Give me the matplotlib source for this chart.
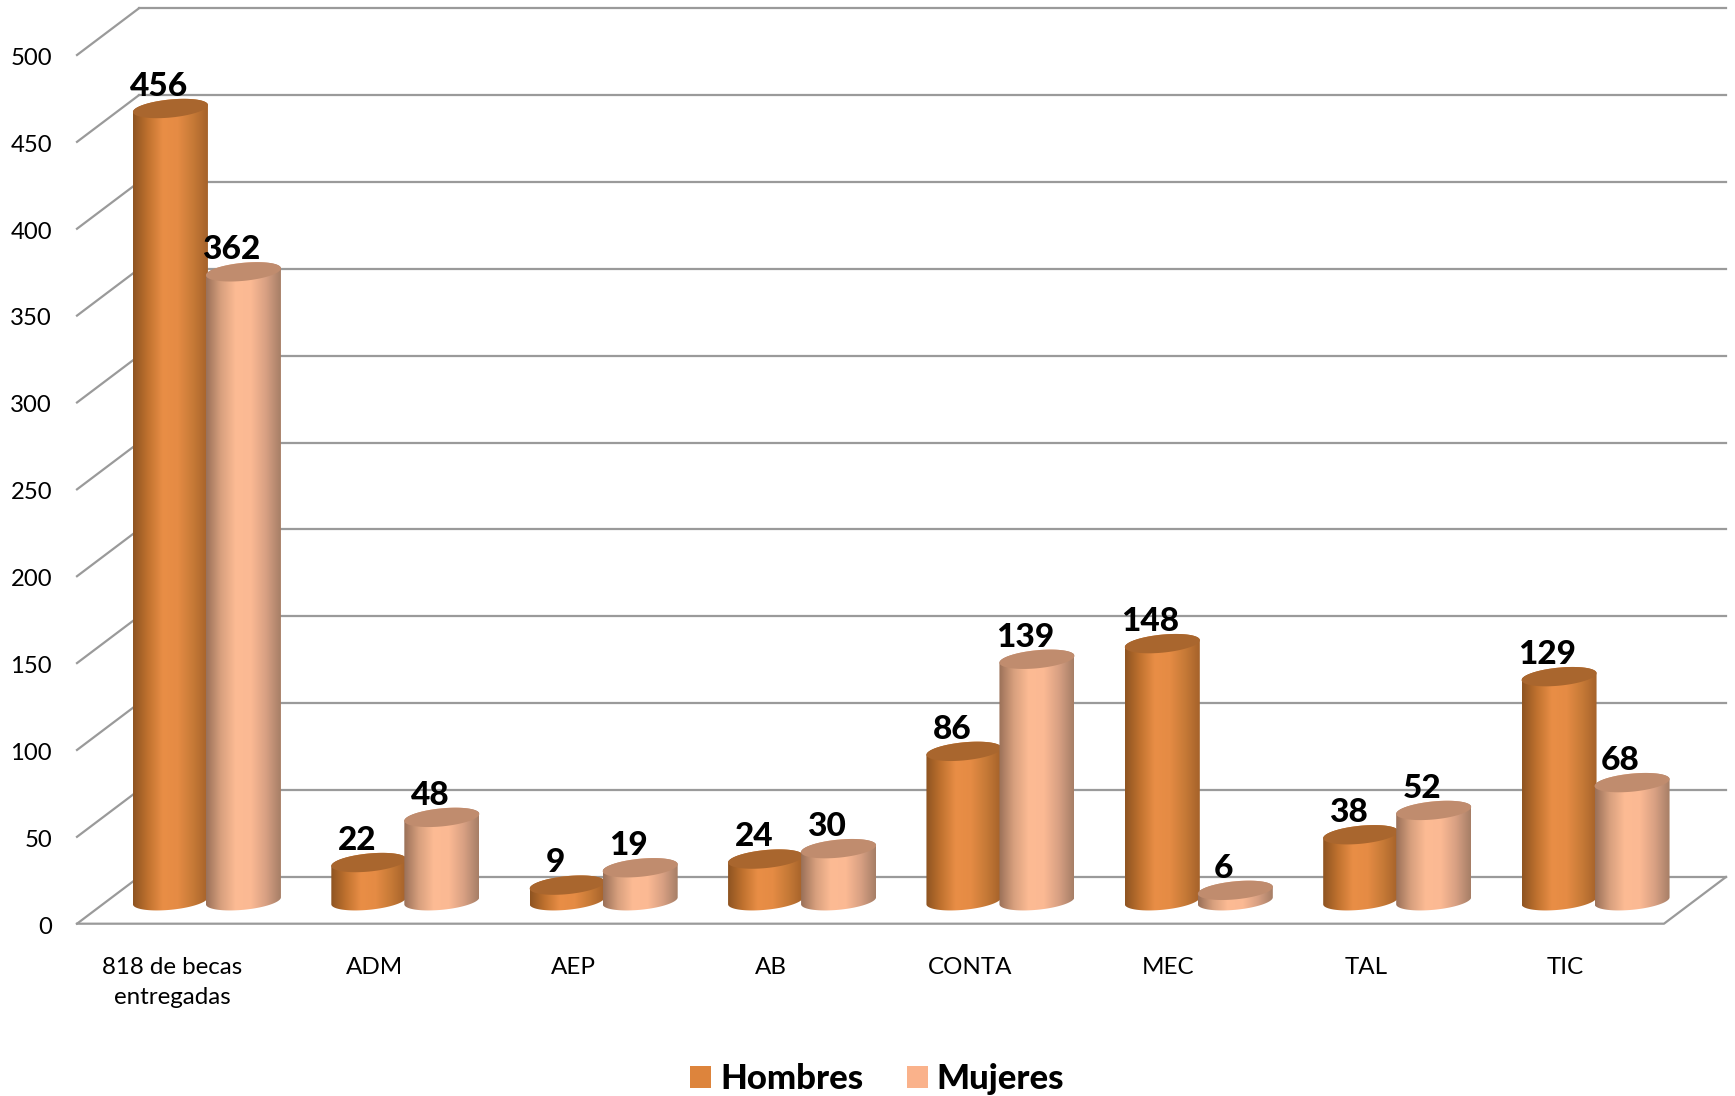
import matplotlib
matplotlib.use('Agg')
import matplotlib.pyplot as plt
import numpy as np
from matplotlib.colors import LinearSegmentedColormap
from matplotlib.patches import Patch, Polygon
from matplotlib.transforms import ScaledTranslation

categorias = ['818 de becas\nentregadas', 'ADM', 'AEP', 'AB', 'CONTA', 'MEC', 'TAL', 'TIC']
hombres = [456, 22, 9, 24, 86, 148, 38, 129]
mujeres = [362, 48, 19, 30, 139, 6, 52, 68]
y_ticks = [0, 50, 100, 150, 200, 250, 300, 350, 400, 450, 500]

W, H = 1735, 1096
plt.rcParams['font.family'] = ['Lato', 'DejaVu Sans']

GRID = '#9a9a9a'
# fake 3D: how far the back wall sits behind the front plane, in data units
DX, DY = 0.3125, 26.9
BASE = 13.2        # height of the cylinder base centre above the front floor line
BAR_W = 0.378
ELL_B, ELL_K = 5.2, 2.0

cmap_h = LinearSegmentedColormap.from_list('h', ['#8e5421', '#c0722f', '#e98e46', '#e58b44', '#c77a37', '#a5622a'])
cmap_m = LinearSegmentedColormap.from_list('m', ['#9a7058', '#d8a07e', '#fdbb94', '#fbb993', '#d8a083', '#a67e66'])


def ellipse(cx, cy, t):
    return cx + BAR_W / 2 * np.cos(t), cy + ELL_B * np.sin(t) + ELL_K * np.cos(t)


def cylinder(ax, cx, value, cmap, top_color, z):
    """Draw one cylinder: gradient body clipped to its outline, then a flat lid"""
    y_top = BASE + value
    xb, yb = ellipse(cx, BASE, np.linspace(np.pi, 2 * np.pi, 60))
    xt, yt = ellipse(cx, y_top, np.linspace(0, np.pi, 60))
    body = Polygon(np.column_stack([np.r_[xb, xt], np.r_[yb, yt]]), closed=True,
                   transform=ax.transData, fc='none', ec='none')
    ax.add_patch(body)
    grad = np.linspace(0, 1, 256).reshape(1, -1)
    im = ax.imshow(grad, cmap=cmap, aspect='auto', zorder=z, interpolation='bilinear',
                   extent=(cx - BAR_W / 2, cx + BAR_W / 2, BASE - 10, y_top + 10))
    im.set_clip_box(ax.figure.bbox)  # last bar pokes out of the axes on the right
    im.set_clip_path(body)
    xl, yl = ellipse(cx, y_top, np.linspace(0, 2 * np.pi, 120))
    ax.fill(xl, yl, color=top_color, lw=0, zorder=z + 0.5, clip_on=False)
    ax.annotate(str(value), (cx, y_top), xytext=(-8.5, 16), textcoords='offset points',
                ha='center', va='center', fontsize=24, fontweight='black', color='black', zorder=50)


fig = plt.figure(figsize=(W / 100, H / 100), dpi=100)
ax = fig.add_axes([77 / W, (H - 923.7) / H, 1587 / W, 868.7 / H])

x0, x1 = -0.5, len(categorias) - 0.5
for v in y_ticks:
    ax.plot([x0, x0 + DX], [v, v + DY], color=GRID, lw=1.6, clip_on=False, zorder=1)
    ax.plot([x0 + DX, x1 + DX], [v + DY, v + DY], color=GRID, lw=1.6, clip_on=False, zorder=1)
# floor front edge and right edge
ax.plot([x0, x1, x1 + DX], [0, 0, DY], color=GRID, lw=1.6, clip_on=False, zorder=1)

for i, (h, m) in enumerate(zip(hombres, mujeres)):
    cylinder(ax, i - 0.029, h, cmap_h, '#a9662e', 2 + 2 * i)
    cylinder(ax, i + 0.339, m, cmap_m, '#c08c6e', 3 + 2 * i)

ax.set_xlim(x0, x1)
ax.set_ylim(0, 500)
ax.set_xticks(range(len(categorias)), categorias)
ax.set_yticks(y_ticks)
ax.tick_params(axis='x', length=0, pad=24, labelsize=17.4)
ax.tick_params(axis='y', length=0, pad=18, labelsize=17.2)
for lab in ax.get_xticklabels():
    lab.set_linespacing(1.5)
ax.get_xticklabels()[0].set_transform(ax.get_xticklabels()[0].get_transform()
                                      + ScaledTranslation(-3 / 72, 0, fig.dpi_scale_trans))
for lab in ax.get_yticklabels():
    lab.set_transform(lab.get_transform() + ScaledTranslation(0, -1 / 72, fig.dpi_scale_trans))
for s in ax.spines.values():
    s.set_visible(False)
ax.patch.set_visible(False)

handles = [Patch(fc='#dd843c', label='Hombres'), Patch(fc='#fab28b', label='Mujeres')]
fig.legend(handles=handles, loc='center', bbox_to_anchor=(877 / W, 1 - 1079 / H), ncol=2, frameon=False,
           prop={'size': 25, 'weight': 'black'}, handlelength=0.62, handleheight=0.62,
           handletextpad=0.25, columnspacing=1.25, borderpad=0)

fig.savefig('out.png', dpi=100)
